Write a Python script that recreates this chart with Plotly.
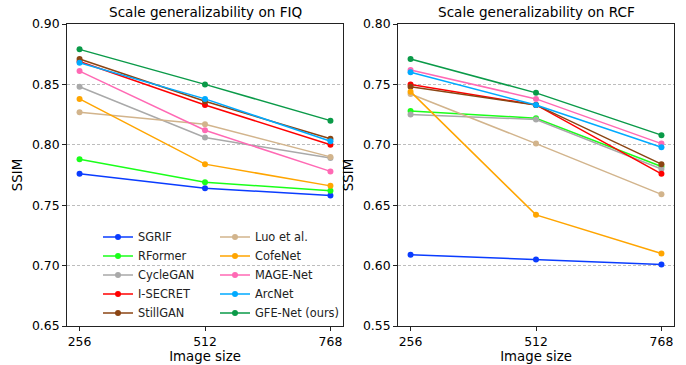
import plotly.graph_objects as go

sizes = [256, 512, 768]
methods = ["SGRIF", "RFormer", "CycleGAN", "I-SECRET", "StillGAN",
           "Luo et al.", "CofeNet", "MAGE-Net", "ArcNet", "GFE-Net (ours)"]
colors = ["#0a3cff", "#1aff1a", "#a9a9a9", "#ff0000", "#8b4513",
          "#d2b48c", "#ffa500", "#ff69b4", "#00aaff", "#0a9a48"]

fiq_sgrif = [0.776, 0.764, 0.758]
fiq_rformer = [0.788, 0.769, 0.762]
fiq_cyclegan = [0.848, 0.806, 0.789]
fiq_isecret = [0.869, 0.833, 0.800]
fiq_stillgan = [0.871, 0.836, 0.805]
fiq_luo = [0.827, 0.817, 0.790]
fiq_cofenet = [0.838, 0.784, 0.766]
fiq_magenet = [0.861, 0.812, 0.778]
fiq_arcnet = [0.868, 0.838, 0.803]
fiq_gfenet = [0.879, 0.850, 0.820]

rcf_sgrif = [0.609, 0.605, 0.601]
rcf_rformer = [0.728, 0.722, 0.682]
rcf_cyclegan = [0.725, 0.721, 0.680]
rcf_isecret = [0.750, 0.733, 0.676]
rcf_stillgan = [0.748, 0.733, 0.684]
rcf_luo = [0.742, 0.701, 0.659]
rcf_cofenet = [0.744, 0.642, 0.610]
rcf_magenet = [0.762, 0.738, 0.701]
rcf_arcnet = [0.760, 0.733, 0.698]
rcf_gfenet = [0.771, 0.743, 0.708]

fiq = [fiq_sgrif, fiq_rformer, fiq_cyclegan, fiq_isecret, fiq_stillgan,
       fiq_luo, fiq_cofenet, fiq_magenet, fiq_arcnet, fiq_gfenet]
rcf = [rcf_sgrif, rcf_rformer, rcf_cyclegan, rcf_isecret, rcf_stillgan,
       rcf_luo, rcf_cofenet, rcf_magenet, rcf_arcnet, rcf_gfenet]

FONT = "DejaVu Sans"
W, H = 686, 365

fig = go.Figure()
for i, (name, col) in enumerate(zip(methods, colors)):
    fig.add_trace(go.Scatter(
        x=sizes, y=fiq[i], name=name, mode="lines+markers",
        line=dict(color=col, width=1.5), marker=dict(color=col, size=6),
        xaxis="x", yaxis="y", legend="legend" if i < 5 else "legend2",
        showlegend=True))
for i, (name, col) in enumerate(zip(methods, colors)):
    fig.add_trace(go.Scatter(
        x=sizes, y=rcf[i], name=name, mode="lines+markers",
        line=dict(color=col, width=1.5), marker=dict(color=col, size=6),
        xaxis="x2", yaxis="y2", showlegend=False))

def px_x(p):
    return p / W

def px_y(p):
    return (H - p) / H

ydom = [px_y(326), px_y(24)]

axis_common = dict(
    showline=True, mirror=True, linecolor="#222", linewidth=1,
    ticks="outside", ticklen=4, tickwidth=1, tickcolor="#222",
    tickfont=dict(family=FONT, size=12.4, color="black"),
    zeroline=False, automargin=False,
)
xcommon = dict(axis_common, tickvals=sizes, range=[230.4, 793.6], showgrid=False,
               title=dict(text="Image size", font=dict(family=FONT, size=13.3, color="black"), standoff=3))
ycommon = dict(axis_common, dtick=0.05, tickformat=".2f", showgrid=True,
               gridcolor="#bdbdbd", gridwidth=0.8, griddash="3px,2px",
               title=dict(text="SSIM", font=dict(family=FONT, size=13.3, color="black"), standoff=6))

legfont = dict(family=FONT, size=11.4, color="#222")

fig.update_layout(
    width=W, height=H,
    margin=dict(l=0, r=0, t=0, b=0),
    paper_bgcolor="white", plot_bgcolor="white",
    font=dict(family=FONT, color="black"),
    xaxis=dict(xcommon, domain=[px_x(67), px_x(343)], anchor="y"),
    yaxis=dict(ycommon, domain=ydom, range=[0.65, 0.90], anchor="x"),
    xaxis2=dict(xcommon, domain=[px_x(398), px_x(674)], anchor="y2"),
    yaxis2=dict(ycommon, domain=ydom, range=[0.55, 0.80], anchor="x2"),
    legend=dict(x=px_x(98), y=px_y(222.5), xanchor="left", yanchor="top",
                bgcolor="rgba(0,0,0,0)", font=legfont, itemwidth=30, tracegroupgap=0),
    legend2=dict(x=px_x(215), y=px_y(222.5), xanchor="left", yanchor="top",
                 bgcolor="rgba(0,0,0,0)", font=legfont, itemwidth=30, tracegroupgap=0),
    annotations=[
        dict(text="Scale generalizability on FIQ", x=px_x(205), y=px_y(12),
             xref="paper", yref="paper", showarrow=False, xanchor="center", yanchor="middle",
             font=dict(family=FONT, size=13.6, color="black")),
        dict(text="Scale generalizability on RCF", x=px_x(536), y=px_y(12),
             xref="paper", yref="paper", showarrow=False, xanchor="center", yanchor="middle",
             font=dict(family=FONT, size=13.6, color="black")),
    ],
)

fig.write_html("out.html", config={"displayModeBar": False},
               post_script="document.body.style.margin='0px';document.body.style.padding='0px';")
